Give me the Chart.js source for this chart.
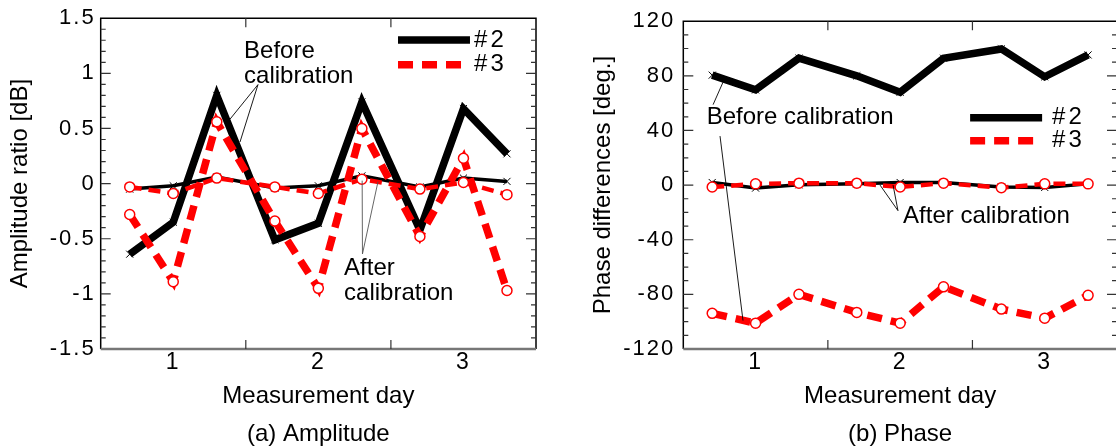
<!DOCTYPE html>
<html>
<head>
<meta charset="utf-8">
<script src="https://cdn.jsdelivr.net/npm/chart.js@4.4.0/dist/chart.umd.min.js"></script>
<style>
  html, body { margin: 0; padding: 0; background: #fff; overflow: hidden; width: 1116px; height: 448px; }
  canvas { position: absolute; top: 0; }
  #amp { left: 0; }
  #phase { left: 558px; }
</style>
</head>
<body>
<canvas id="amp" width="558" height="448"></canvas>
<canvas id="phase" width="570" height="448"></canvas>
<script>
// measurement positions (three days, three shots per day)
var dayPos = [0.7, 1.0, 1.3, 1.7, 2.0, 2.3, 2.7, 3.0, 3.3];
var dayTicks = [1, 2, 3];
var seriesNames = ['#2', '#3'];

// (a) amplitude ratio [dB]
var ampBefore2 = [-0.64, -0.35, 0.80, -0.51, -0.36, 0.74, -0.42, 0.68, 0.27];
var ampBefore3 = [-0.28, -0.89, 0.56, -0.34, -0.95, 0.50, -0.48, 0.23, -0.97];
var ampAfter2 = [-0.05, -0.02, 0.06, -0.04, -0.02, 0.07, -0.03, 0.05, 0.02];
var ampAfter3 = [-0.03, -0.09, 0.05, -0.03, -0.09, 0.04, -0.05, 0.01, -0.10];

// (b) phase differences [deg.]
var phBefore2 = [80.5, 69.7, 92.9, 80.0, 68.0, 92.9, 99.7, 79.3, 95.3];
var phBefore3 = [-93.9, -101.1, -80.0, -93.2, -101.1, -74.5, -90.8, -97.5, -80.7];
var phAfter2 = [1.9, -2.2, 0.2, 0.9, 1.9, 1.9, -1.4, -1.7, 0.9];
var phAfter3 = [-1.4, 0.9, 1.4, 1.4, -1.4, 1.4, -1.9, 0.9, 0.9];

var FONT = 'Arial, "Liberation Sans", sans-serif';

var thickBlack = { borderColor: '#000', borderWidth: 7.5, pointStyle: 'crossRot', pointRadius: 5,
  pointBorderWidth: 1, pointBorderColor: '#000', pointBackgroundColor: '#000' };
var thinBlack = { borderColor: '#000', borderWidth: 3.5, pointStyle: 'crossRot', pointRadius: 5,
  pointBorderWidth: 1, pointBorderColor: '#000', pointBackgroundColor: '#000' };
var thickRed = { borderColor: '#ff0000', borderWidth: 7.5, borderDash: [15, 9], pointStyle: 'circle', pointRadius: 5,
  pointBorderWidth: 1.5, pointBorderColor: '#ff0000', pointBackgroundColor: '#fff' };
var thinRed = { borderColor: '#ff0000', borderWidth: 4.5, borderDash: [12, 7], pointStyle: 'circle', pointRadius: 5,
  pointBorderWidth: 1.5, pointBorderColor: '#ff0000', pointBackgroundColor: '#fff' };

function series(vals, style) {
  return Object.assign({
    data: dayPos.map(function (x, i) { return { x: x, y: vals[i] }; }),
    tension: 0, borderJoinStyle: 'miter', borderCapStyle: 'butt', fill: false
  }, style);
}

// tick labels of the original are spaced out, titles are not
function spacedLabels(s) {
  if (s._spaced) return;
  s._spaced = true;
  var orig = s.drawLabels;
  s.drawLabels = function (ca) {
    var ctx = this.ctx;
    ctx.letterSpacing = '2px';
    orig.call(this, ca);
    ctx.letterSpacing = '0px';
  };
}

// box, inward ticks, in-plot legend and annotations
var framePlugin = {
  id: 'frame',
  afterDraw: function (chart, args, o) {
    var ctx = chart.ctx, a = chart.chartArea, xs = chart.scales.x, ys = chart.scales.y;
    ctx.save();
    ctx.setLineDash([]);
    ctx.strokeStyle = '#000';
    ctx.lineWidth = 1.5;
    ctx.beginPath();
    ctx.moveTo(a.left, a.bottom); ctx.lineTo(a.left, a.top);
    ctx.lineTo(a.right, a.top); ctx.lineTo(a.right, a.bottom);
    ctx.stroke();
    ctx.strokeStyle = '#777';
    ctx.lineWidth = 2.5;
    ctx.beginPath(); ctx.moveTo(a.left, a.bottom); ctx.lineTo(a.right, a.bottom); ctx.stroke();

    ctx.strokeStyle = '#333';
    ctx.lineWidth = 1.2;
    var n = Math.round((ys.max - ys.min) / o.minor);
    for (var i = 1; i < n; i++) {
      var v = ys.min + i * o.minor;
      var r = v / o.major;
      var len = Math.abs(r - Math.round(r)) < 1e-6 ? 10 : 5;
      var py = ys.getPixelForValue(v);
      ctx.beginPath();
      ctx.moveTo(a.left, py); ctx.lineTo(a.left + len, py);
      ctx.moveTo(a.right, py); ctx.lineTo(a.right - len, py);
      ctx.stroke();
    }
    for (var k = 0; k < dayTicks.length - 1; k++) {
      var px = xs.getPixelForValue((dayTicks[k] + dayTicks[k + 1]) / 2);
      ctx.beginPath();
      ctx.moveTo(px, a.bottom); ctx.lineTo(px, a.bottom - 9);
      ctx.moveTo(px, a.top); ctx.lineTo(px, a.top + 9);
      ctx.stroke();
    }

    // legend
    var L = o.legend;
    ctx.font = '24px ' + FONT;
    ctx.textBaseline = 'middle';
    ctx.textAlign = 'left';
    L.items.forEach(function (it, j) {
      var ds = chart.data.datasets[it];
      var y = ys.getPixelForValue(L.y[j]);
      ctx.strokeStyle = ds.borderColor;
      ctx.lineWidth = ds.borderWidth;
      ctx.setLineDash(ds.borderDash || []);
      ctx.beginPath();
      ctx.moveTo(xs.getPixelForValue(L.x0), y);
      ctx.lineTo(xs.getPixelForValue(L.x1), y);
      ctx.stroke();
      ctx.setLineDash([]);
      ctx.fillStyle = '#000';
      ctx.letterSpacing = '3px';
      ctx.fillText(seriesNames[j], xs.getPixelForValue(L.xt), y);
      ctx.letterSpacing = '0px';
    });

    // annotations with leader lines
    o.notes.forEach(function (nt) {
      ctx.strokeStyle = nt.color || '#000';
      ctx.lineWidth = 0.9;
      var fx = xs.getPixelForValue(nt.from[0]), fy = ys.getPixelForValue(nt.from[1]);
      nt.to.forEach(function (t) {
        ctx.beginPath();
        ctx.moveTo(fx, fy);
        ctx.lineTo(xs.getPixelForValue(t[0]), ys.getPixelForValue(t[1]));
        ctx.stroke();
      });
      ctx.fillStyle = '#000';
      var tx = xs.getPixelForValue(nt.x), ty = ys.getPixelForValue(nt.y);
      nt.lines.forEach(function (s, j) { ctx.fillText(s, tx, ty + j * 24.5); });
    });
    ctx.restore();
  }
};

function makeChart(id, sets, yMin, yMax, yStep, yTitle, xTitle, yWidth, padRight, yPad, titlePad, frame) {
  return new Chart(document.getElementById(id), {
    type: 'line',
    data: { datasets: sets },
    plugins: [framePlugin],
    options: {
      responsive: false,
      animation: false,
      layout: { padding: { top: 15, right: padRight, left: 0, bottom: 0 } },
      plugins: { legend: { display: false }, tooltip: { enabled: false }, frame: frame },
      scales: {
        x: {
          type: 'linear', min: 0.5, max: 3.5,
          afterBuildTicks: function (s) { s.ticks = dayTicks.map(function (v) { return { value: v }; }); },
          afterFit: function (s) { s.height = 99; spacedLabels(s); },
          grid: { display: false, drawTicks: false },
          border: { display: false },
          ticks: { padding: 0, color: '#000', font: { family: FONT, size: 23 }, callback: function (v) { return String(v); } },
          title: { display: true, text: xTitle, color: '#000', font: { family: FONT, size: 24, lineHeight: 1.58 },
            padding: { top: 0, bottom: -5 } }
        },
        y: {
          min: yMin, max: yMax,
          afterFit: function (s) { s.width = yWidth; spacedLabels(s); },
          grid: { display: false, drawTicks: false },
          border: { display: false },
          ticks: { stepSize: yStep, padding: yPad, color: '#000', font: { family: FONT, size: 22 },
            callback: function (v) { return String(Math.round(v * 100) / 100); } },
          title: { display: true, text: yTitle, color: '#000', font: { family: FONT, size: 24 },
            padding: { top: titlePad, bottom: 0 } }
        }
      }
    }
  });
}

makeChart('amp',
  [series(ampAfter3, thinRed), series(ampBefore3, thickRed), series(ampAfter2, thinBlack), series(ampBefore2, thickBlack)],
  -1.5, 1.5, 0.5, 'Amplitude ratio [dB]', ['Measurement day', '(a) Amplitude'], 100.7, 22, 5, 5.5,
  {
    minor: 0.1, major: 0.5,
    legend: { items: [3, 1], x0: 2.549, x1: 3.045, xt: 3.073, y: [1.302, 1.078] },
    notes: [
      { lines: ['Before', 'calibration'], x: 1.488, y: 1.195, from: [1.584, 0.898], to: [[1.391, 0.584], [1.46, 0.377]] },
      { lines: ['After', 'calibration'], x: 2.177, y: -0.773, from: [2.304, -0.638], to: [[2.302, 0.027], [2.411, 0.018]], color: '#555' }
    ]
  });

makeChart('phase',
  [series(phAfter3, thinRed), series(phBefore3, thickRed), series(phAfter2, thinBlack), series(phBefore2, thickBlack)],
  -120, 120, 40, 'Phase differences [deg.]', ['Measurement day', '(b) Phase'], 125.3, 11, 8, 30.5,
  {
    minor: 10, major: 40,
    legend: { items: [3, 1], x0: 2.484, x1: 2.982, xt: 3.051, y: [49.4, 32.5] },
    notes: [
      { lines: ['Before calibration'], x: 0.662, y: 49.6, from: [0.754, 35.9], to: [[0.913, -99.2]] },
      { lines: [], x: 0.662, y: 49.6, from: [0.706, 58.9], to: [[0.775, 75.4]] },
      { lines: ['After calibration'], x: 2.02, y: -23, from: [1.985, -18.7], to: [[1.861, 0], [1.951, 0]] }
    ]
  });
</script>
</body>
</html>
